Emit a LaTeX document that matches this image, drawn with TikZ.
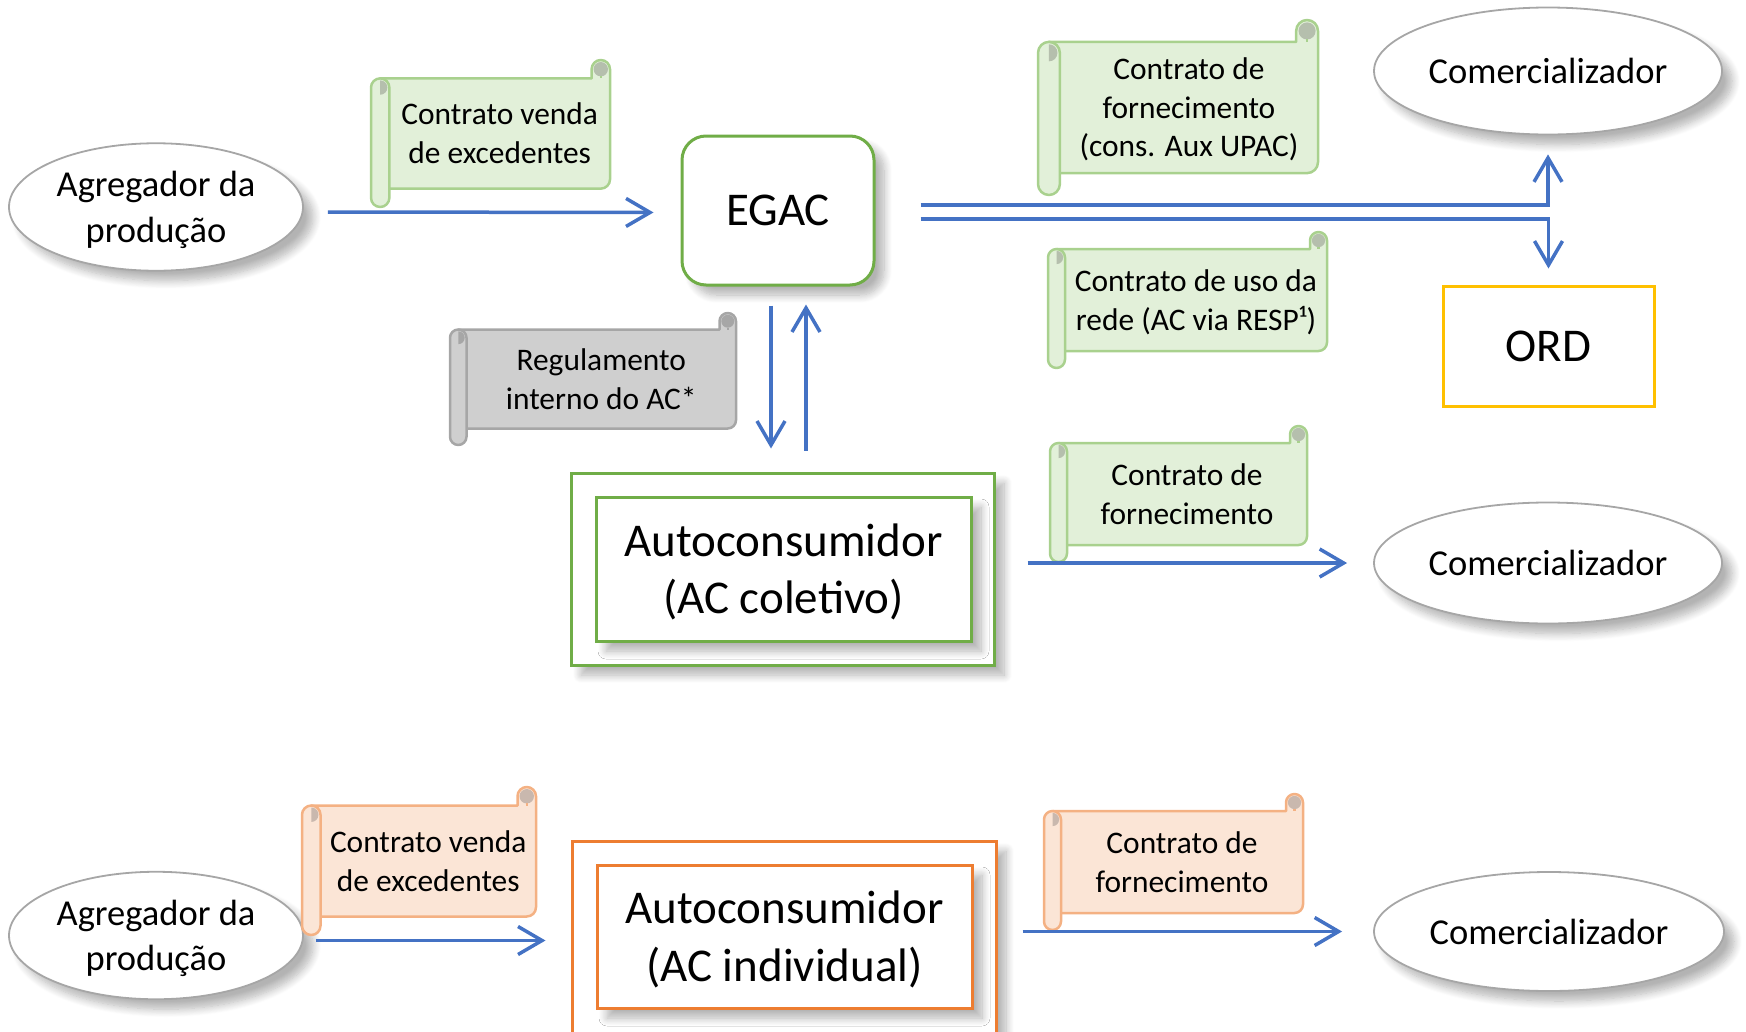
\documentclass[tikz,border=0pt]{standalone}
\usepackage{fontspec}
\setmainfont{Carlito}
\usetikzlibrary{shapes.geometric, arrows.meta, shadows.blur}

\definecolor{arrowblue}{HTML}{4472C4}
\definecolor{grnline}{HTML}{A9D18E}
\definecolor{grnfill}{HTML}{E2F0D9}
\definecolor{grncurl}{HTML}{B5BFAD}
\definecolor{orgline}{HTML}{F4B183}
\definecolor{orgfill}{HTML}{FBE5D6}
\definecolor{orgcurl}{HTML}{C9B8AE}
\definecolor{grayline}{HTML}{A6A6A6}
\definecolor{grayfill}{HTML}{CFCFCF}
\definecolor{graycurl}{HTML}{A6A6A6}
\definecolor{egacgreen}{HTML}{70AD47}
\definecolor{acorange}{HTML}{ED7D31}
\definecolor{ordgold}{HTML}{FFC000}
\definecolor{ellgray}{HTML}{A6A6A6}

% line box as the slide program sets it
\newcommand{\lnstrut}{\rule[-0.269em]{0pt}{1.221em}}

% scroll: kind, name, x0, y0, x1, y1 (y downwards), text
\newcommand{\scrollnode}[7]{%
  \pgfmathsetmacro{\sxa}{#3}%
  \pgfmathsetmacro{\sxb}{#5}%
  \pgfmathsetmacro{\sya}{-#4}%
  \pgfmathsetmacro{\syb}{-#6}%
  \pgfmathsetmacro{\src}{0.125*min(#5-#3,#6-#4)}%
  \pgfmathsetmacro{\srh}{\src/2}%
  \pgfmathsetmacro{\srk}{0.78*\srh}%
  \draw[#1 scroll] (\sxa+\srh,\sya-\src) -- (\sxb-\src,\sya-\src) -- (\sxb-\src,\sya-\srh)
    arc[start angle=180, end angle=0, radius=\srh] -- (\sxb,\syb+\src+\srh)
    arc[start angle=0, end angle=-90, radius=\srh] -- (\sxa+\srh,\syb+\src) -- cycle;
  \fill[#1 curl] (\sxb-\srh,\sya-\srh) circle[radius=\srk];
  \draw[#1 scroll, fill=none] (\sxb-\srh,\sya-\srh-\srk) -- (\sxb-\srh,\sya-\src);
  \draw[#1 scroll, rounded corners=\srh pt] (\sxa,\sya-\src) rectangle (\sxa+\src,\syb);
  \fill[#1 curl] (\sxa+\srh,\sya-\src-\srh+\srk) arc[start angle=90, end angle=-90, radius=\srk] -- cycle;
  \node[scrolltext] (#2) at ({(\sxa+\src+\sxb)/2},{(\sya+\syb)/2}) {\lnstrut#7\lnstrut};
}

\begin{document}
\begin{tikzpicture}[
  x=1pt, y=1pt,
  softshadow/.style={blur shadow={shadow xshift=10pt, shadow yshift=-10pt,
    shadow opacity=30, shadow blur steps=10, shadow blur radius=8pt}},
  party/.style={ellipse, draw=ellgray, line width=1.8pt, fill=white, align=center,
    inner sep=0pt, font=\fontsize{36.5}{44.5}\selectfont, softshadow},
  hub/.style={rectangle, rounded corners=24pt, draw=egacgreen, line width=3pt,
    fill=white, font=\fontsize{47}{57}\selectfont, softshadow},
  opbox/.style={rectangle, draw=ordgold, line width=3pt, fill=white,
    font=\fontsize{47}{57}\selectfont},
  acframe/.style={rectangle, draw=#1, line width=3pt, fill=white, softshadow},
  acbox/.style={rectangle, draw=#1, line width=3pt, fill=white, align=center,
    font=\fontsize{47}{57.4}\selectfont, softshadow},
  scrolltext/.style={align=center, inner sep=0pt, font=\fontsize{31.4}{38.3}\selectfont},
  green scroll/.style={draw=grnline, fill=grnfill, line width=2.5pt, line join=round},
  green curl/.style={fill=grncurl},
  orange scroll/.style={draw=orgline, fill=orgfill, line width=2.5pt, line join=round},
  orange curl/.style={fill=orgcurl},
  gray scroll/.style={draw=grayline, fill=grayfill, line width=2.5pt, line join=round},
  gray curl/.style={fill=graycurl},
  arr/.style={draw=arrowblue, line width=3.5pt, -{Straight Barb[length=24pt, width=28pt]}}
]
  \useasboundingbox (0,0) rectangle (1746,-1031);

  % top part
  \node[party, minimum width=294pt, minimum height=127pt] (agg1) at (156,-207) {\lnstrut Agregador da\\produção\lnstrut};
  \node[hub, minimum width=192pt, minimum height=149pt] (egac) at (778,-210.5) {EGAC};
  \node[party, minimum width=348pt, minimum height=127pt] (com1) at (1548,-71) {Comercializador};
  \node[opbox, minimum width=211pt, minimum height=120pt] (ord) at (1548.5,-346) {ORD};

  \node[acframe=egacgreen, minimum width=423pt, minimum height=192pt] (acc) at (782.5,-569) {};
  \node[acbox=egacgreen, minimum width=375pt, minimum height=144pt] (acci) at (783.5,-569) {\lnstrut Autoconsumidor\\(AC coletivo)\lnstrut};
  \node[party, minimum width=348pt, minimum height=121pt] (com2) at (1548,-563) {Comercializador};

  % bottom part
  \node[party, minimum width=294pt, minimum height=127pt] (agg2) at (156,-935.5) {\lnstrut Agregador da\\produção\lnstrut};
  \node[acframe=acorange, minimum width=424pt, minimum height=199pt] (aci) at (784,-940.5) {};
  \node[acbox=acorange, minimum width=375pt, minimum height=143pt] (acii) at (784.5,-936.5) {\lnstrut Autoconsumidor\\(AC individual)\lnstrut};
  \node[party, minimum width=350pt, minimum height=119pt] (com3) at (1549,-931.5) {Comercializador};

  % contracts
  \scrollnode{green}{cv1}{371}{60}{610}{207}{Contrato venda\\de excedentes}
  \scrollnode{green}{cf1}{1038}{20}{1318}{195}{Contrato de\\fornecimento\\(cons. Aux UPAC)}
  \scrollnode{green}{cr}{1048}{232}{1327}{368}{Contrato de uso da\\rede (AC via RESP¹)}
  \scrollnode{gray}{reg}{450}{313}{736}{445}{Regulamento\\interno do AC*}
  \scrollnode{green}{cf2}{1050}{426}{1307}{562}{Contrato de\\fornecimento}
  \scrollnode{orange}{cv2}{302}{787}{536}{935}{Contrato venda\\de excedentes}
  \scrollnode{orange}{cf3}{1044}{794}{1303}{930}{Contrato de\\fornecimento}

  % flows
  \draw[arr, shorten <=24pt, shorten >=27pt] ([yshift=-5pt]agg1.east) -- ([yshift=-2pt]egac.west);
  \draw[arr, shorten <=45pt, shorten >=19pt] ([yshift=5.5pt]egac.east) -| (com1.south);
  \draw[arr, shorten <=45pt, shorten >=16pt] ([yshift=-8.5pt]egac.east) -| (ord.north);
  \draw[arr, shorten <=19pt, shorten >=23pt] ([xshift=-7pt]egac.south) -- ([xshift=-7pt]egac.south |- acc.north);
  \draw[arr, shorten <=21pt, shorten >=18pt] ([xshift=28pt]egac.south |- acc.north) -- ([xshift=28pt]egac.south);
  \draw[arr, shorten <=32pt, shorten >=26pt] (acc.east |- com2.west) -- (com2.west);
  \draw[arr, shorten <=12pt, shorten >=25pt] ([yshift=-5pt]agg2.east) -- ([yshift=-5pt]agg2.east -| aci.west);
  \draw[arr, shorten <=25pt, shorten >=31pt] (aci.east |- com3.west) -- (com3.west);
\end{tikzpicture}
\end{document}
